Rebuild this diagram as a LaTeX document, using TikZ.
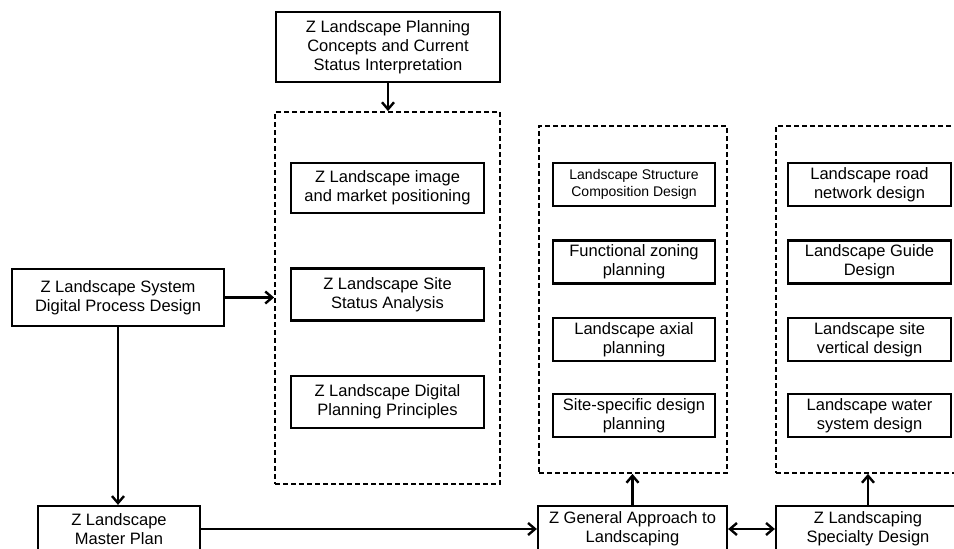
\documentclass[tikz,border=0pt]{standalone}
\usepackage{fontspec}
\setmainfont{Liberation Sans}
\usetikzlibrary{arrows.meta}
\begin{document}
\begin{tikzpicture}[x=1pt,y=-1pt,
    box/.style={draw, line width=2.2pt, align=center, inner sep=0pt, font=\fontsize{16.5}{19}\selectfont},
    group/.style={draw, line width=1.8pt, dash pattern=on 5pt off 3pt},
    tip/.tip={Straight Barb[length=7pt,width=12pt,line width=2.4pt]},
    arr/.style={-tip, line width=2.2pt},
    dblarr/.style={tip-tip, line width=2.2pt}]
    \useasboundingbox (0,0) rectangle (954,549);
    \clip (0,0) rectangle (954,549);
    % top and left
    \node[box, minimum width=224, minimum height=70] (concept) at (388,47) {Z Landscape Planning\\Concepts and Current\\Status Interpretation};
    \node[box, minimum width=212, minimum height=57] (system) at (118,297.5) {Z Landscape System\\Digital Process Design};
    % dashed groups
    \node[group, minimum width=225, minimum height=372] (grpA) at (387.5,298) {};
    \node[group, minimum width=188, minimum height=347] (grpB) at (633,299.5) {};
    \node[group, minimum width=186, minimum height=347] (grpC) at (869,299.5) {};
    % group A
    \node[box, minimum width=193, minimum height=50] (image) at (387.5,188) {Z Landscape image\\and market positioning};
    \node[box, minimum width=193, minimum height=52] (status) at (387.5,294.5) {Z Landscape Site\\Status Analysis};
    \node[box, minimum width=193, minimum height=52] (principle) at (387.5,402) {Z Landscape Digital\\Planning Principles};
    % group B
    \node[box, minimum width=162, minimum height=43, font=\fontsize{14}{17}\selectfont] (structure) at (634,184.5) {Landscape Structure\\Composition Design};
    \node[box, minimum width=162, minimum height=43] (zoning) at (634,262) {Functional zoning\\planning};
    \node[box, minimum width=162, minimum height=43] (axial) at (634,339.5) {Landscape axial\\planning};
    \node[box, minimum width=162, minimum height=43] (sitespec) at (634,415.5) {Site-specific design\\planning};
    % group C
    \node[box, minimum width=163, minimum height=43] (road) at (869.5,184.5) {Landscape road\\network design};
    \node[box, minimum width=163, minimum height=43] (guide) at (869.5,262) {Landscape Guide\\Design};
    \node[box, minimum width=163, minimum height=43] (vertical) at (869.5,339.5) {Landscape site\\vertical design};
    \node[box, minimum width=163, minimum height=43] (water) at (869.5,415.5) {Landscape water\\system design};
    % bottom row
    \node[box, minimum width=162, minimum height=46] (master) at (119,529) {Z Landscape\\Master Plan};
    \node[box, minimum width=189, minimum height=46] (general) at (632.5,529) {Z General Approach to\\Landscaping};
    \node[box, minimum width=184, minimum height=46] (specialty) at (868,529) {Z Landscaping\\Specialty Design};
    % connectors
    \draw[arr] (concept.south) -- (concept.south |- grpA.north);
    \draw[arr] (system.east) -- (system.east -| grpA.west);
    \draw[arr] (system.south) -- (system.south |- master.north);
    \draw[arr] (master) -- (general);
    \draw[dblarr] (general) -- (specialty);
    \draw[arr] (general.north) -- (general.north |- grpB.south);
    \draw[arr] (specialty.north) -- (specialty.north |- grpC.south);
\end{tikzpicture}
\end{document}
